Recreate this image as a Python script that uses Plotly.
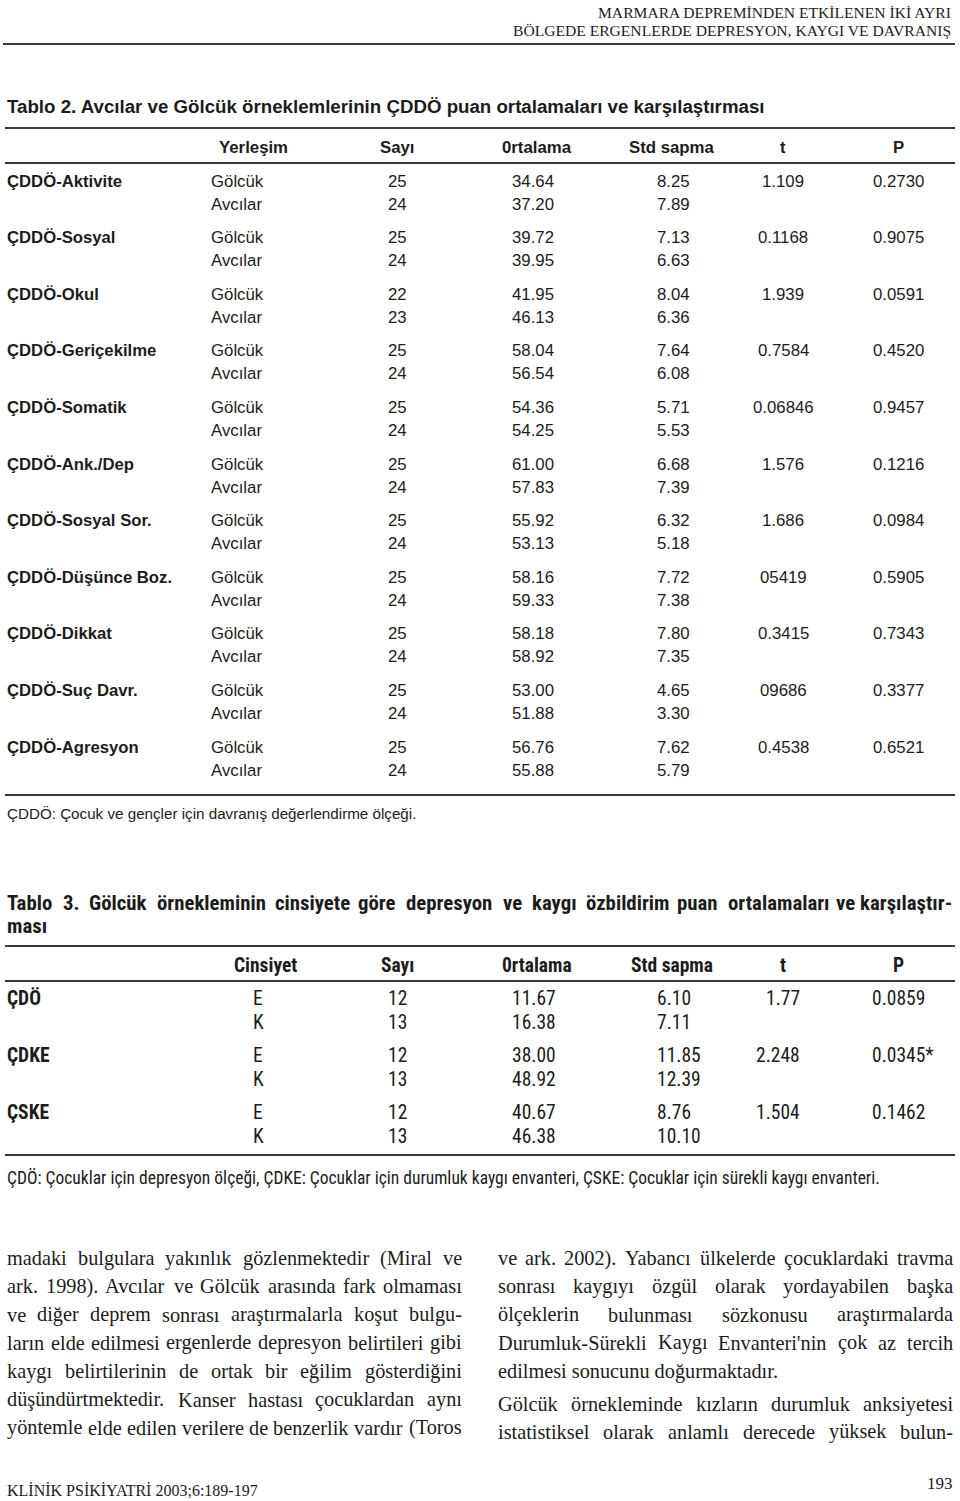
import plotly.graph_objects as go

# ---- data: Tablo 2 ----
t2_columns = ["Yerleşim", "Sayı", "0rtalama", "Std sapma", "t", "P"]
t2_scales = [
    "ÇDDÖ-Aktivite", "ÇDDÖ-Sosyal", "ÇDDÖ-Okul", "ÇDDÖ-Geriçekilme",
    "ÇDDÖ-Somatik", "ÇDDÖ-Ank./Dep", "ÇDDÖ-Sosyal Sor.", "ÇDDÖ-Düşünce Boz.",
    "ÇDDÖ-Dikkat", "ÇDDÖ-Suç Davr.", "ÇDDÖ-Agresyon",
]
t2_groups = ["Gölcük", "Avcılar"]
t2_n_golcuk = [25, 25, 22, 25, 25, 25, 25, 25, 25, 25, 25]
t2_n_avcilar = [24, 24, 23, 24, 24, 24, 24, 24, 24, 24, 24]
t2_mean_golcuk = ["34.64", "39.72", "41.95", "58.04", "54.36", "61.00", "55.92", "58.16", "58.18", "53.00", "56.76"]
t2_mean_avcilar = ["37.20", "39.95", "46.13", "56.54", "54.25", "57.83", "53.13", "59.33", "58.92", "51.88", "55.88"]
t2_sd_golcuk = ["8.25", "7.13", "8.04", "7.64", "5.71", "6.68", "6.32", "7.72", "7.80", "4.65", "7.62"]
t2_sd_avcilar = ["7.89", "6.63", "6.36", "6.08", "5.53", "7.39", "5.18", "7.38", "7.35", "3.30", "5.79"]
t2_t = ["1.109", "0.1168", "1.939", "0.7584", "0.06846", "1.576", "1.686", "05419", "0.3415", "09686", "0.4538"]
t2_p = ["0.2730", "0.9075", "0.0591", "0.4520", "0.9457", "0.1216", "0.0984", "0.5905", "0.7343", "0.3377", "0.6521"]

# ---- data: Tablo 3 ----
t3_columns = ["Cinsiyet", "Sayı", "0rtalama", "Std sapma", "t", "P"]
t3_scales = ["ÇDÖ", "ÇDKE", "ÇSKE"]
t3_groups = ["E", "K"]
t3_n_e = [12, 12, 12]
t3_n_k = [13, 13, 13]
t3_mean_e = ["11.67", "38.00", "40.67"]
t3_mean_k = ["16.38", "48.92", "46.38"]
t3_sd_e = ["6.10", "11.85", "8.76"]
t3_sd_k = ["7.11", "12.39", "10.10"]
t3_t = ["1.77", "2.248", "1.504"]
t3_p = ["0.0859", "0.0345*", "0.1462"]

# ---- page text ----
header_lines = [
    "MARMARA DEPREMİNDEN ETKİLENEN İKİ AYRI",
    "BÖLGEDE ERGENLERDE DEPRESYON, KAYGI VE DAVRANIŞ",
]
t2_title = "Tablo 2. Avcılar ve Gölcük örneklemlerinin ÇDDÖ puan ortalamaları ve karşılaştırması"
t2_note = "ÇDDÖ: Çocuk ve gençler için davranış değerlendirme ölçeği."
t3_title = [
    "Tablo 3. Gölcük örnekleminin cinsiyete göre depresyon ve kaygı özbildirim puan ortalamaları ve karşılaştır-",
    "ması",
]
t3_note = ("ÇDÖ: Çocuklar için depresyon ölçeği, ÇDKE: Çocuklar için durumluk kaygı envanteri, "
           "ÇSKE: Çocuklar için sürekli kaygı envanteri.")
left_col = [
    "madaki bulgulara yakınlık gözlenmektedir (Miral ve",
    "ark. 1998). Avcılar ve Gölcük arasında fark olmaması",
    "ve diğer deprem sonrası araştırmalarla koşut bulgu-",
    "ların elde edilmesi ergenlerde depresyon belirtileri gibi",
    "kaygı belirtilerinin de ortak bir eğilim gösterdiğini",
    "düşündürtmektedir. Kanser hastası çocuklardan aynı",
    "yöntemle elde edilen verilere de benzerlik vardır (Toros",
]
right_col = [
    "ve ark. 2002). Yabancı ülkelerde çocuklardaki travma",
    "sonrası kaygıyı özgül olarak yordayabilen başka",
    "ölçeklerin bulunması sözkonusu araştırmalarda",
    "Durumluk-Sürekli Kaygı Envanteri'nin çok az tercih",
    "edilmesi sonucunu doğurmaktadır.",
]
right_col2 = [
    "Gölcük örnekleminde kızların durumluk anksiyetesi",
    "istatistiksel olarak anlamlı derecede yüksek bulun-",
]
footer_left = "KLİNİK PSİKİYATRİ 2003;6:189-197"
footer_right = "193"

SANS = "Liberation Sans, Arial, Helvetica, sans-serif"
NARROW = "Liberation Sans Narrow, Arial Narrow, Roboto Condensed, Liberation Sans, sans-serif"
SERIF = "Liberation Serif, Times New Roman, serif"
INK = "#1c1c1c"
RULE = "#3c3c3c"

# approximate advance widths (em) used only to spread words for justified lines
SERIF_W = dict(zip("abcdefghijklmnopqrstuvwxyz",
                   [.444, .5, .444, .5, .444, .333, .5, .5, .278, .278, .5, .278, .778,
                    .5, .5, .5, .5, .333, .389, .278, .5, .5, .722, .5, .5, .444]))
SERIF_W.update(dict(zip("ABCDEFGHIJKLMNOPQRSTUVWXYZ",
                        [.722, .667, .667, .722, .611, .556, .722, .722, .333, .389, .722, .611, .889,
                         .722, .722, .556, .722, .667, .556, .611, .722, .722, .944, .722, .722, .611])))
SERIF_W.update({"ı": .278, "ş": .389, "ğ": .5, "ç": .444, "ö": .5, "ü": .5, "Ç": .667, "Ö": .722,
                "Ü": .722, "Ş": .556, "İ": .333, ".": .25, ",": .25, "(": .333, ")": .333,
                "-": .333, "'": .18, ":": .278, ";": .278})
NARROW_BW = {c: w * 0.83 for c, w in zip(
    "abcdefghijklmnopqrstuvwxyz",
    [.556, .611, .556, .611, .556, .333, .611, .611, .278, .278, .556, .278, .889,
     .611, .611, .611, .611, .389, .556, .333, .611, .556, .778, .556, .556, .5])}
NARROW_BW.update({c: w * 0.83 for c, w in {"ı": .278, "ş": .556, "ğ": .611, "ç": .556, "ö": .611,
                                          "ü": .611, "T": .611, "G": .778, ".": .278, "-": .333}.items()})

annotations = []
shapes = []


def txt(x, y, s, size, family=SANS, anchor="left", bold=False):
    annotations.append(dict(
        x=x, y=y, xref="x", yref="y", text=f"<b>{s}</b>" if bold else s,
        xanchor=anchor, yanchor="middle", showarrow=False, borderpad=0, borderwidth=0,
        font=dict(family=family, size=size, color=INK),
    ))


def justify(line, x0, x1, y, size, family, widths, bold=False, default=0.556):
    words = line.split(" ")
    ww = [sum(widths.get(c, default) for c in w) * size for w in words]
    gap = (x1 - x0 - sum(ww)) / max(len(words) - 1, 1)
    x = x0
    for k, w in enumerate(words):
        if k == len(words) - 1 and k > 0:
            txt(x1, y, w, size, family, "right", bold)
        else:
            txt(x, y, w, size, family, "left", bold)
        x += ww[k] + gap


def rule(y, x0=5, x1=955, width=2):
    shapes.append(dict(type="line", xref="x", yref="y", x0=x0, x1=x1, y0=y, y1=y,
                       line=dict(color=RULE, width=width)))


# running header
txt(951, 12, header_lines[0], 15.6, SERIF, "right")
txt(951, 30, header_lines[1], 15.6, SERIF, "right")
rule(44, 3, 955, 2)

# ---- Tablo 2 ----
txt(7, 106, t2_title, 18.7, SANS, bold=True)
rule(128)
rule(163)
head_x = [253, 397, 537, 672, 783, 898]
for hx, h in zip(head_x, t2_columns):
    txt(hx, 147, h, 16.8, SANS, "center", bold=True)

for i, name in enumerate(t2_scales):
    y1 = 181 + i * 56.6
    y2 = y1 + 23
    txt(7, y1, name, 16.7, SANS, bold=True)
    txt(211, y1, t2_groups[0], 16.8)
    txt(211, y2, t2_groups[1], 16.8)
    txt(397, y1, str(t2_n_golcuk[i]), 16.8, anchor="center")
    txt(397, y2, str(t2_n_avcilar[i]), 16.8, anchor="center")
    txt(512, y1, t2_mean_golcuk[i], 16.8)
    txt(512, y2, t2_mean_avcilar[i], 16.8)
    txt(657, y1, t2_sd_golcuk[i], 16.8)
    txt(657, y2, t2_sd_avcilar[i], 16.8)
    txt(783, y1, t2_t[i], 16.8, anchor="center")
    txt(898, y1, t2_p[i], 16.8, anchor="center")

rule(795)
txt(7, 813, t2_note, 15.2)

# ---- Tablo 3 ----
justify(t3_title[0], 7, 952, 903, 20.8, NARROW, NARROW_BW, bold=True)
txt(7, 926, t3_title[1], 20.8, NARROW, bold=True)
rule(946)
rule(981)
head3_x = [265, 397, 537, 672, 783, 898]
for hx, h in zip(head3_x, t3_columns):
    txt(hx, 965, h, 19.5, NARROW, "center", bold=True)

for i, name in enumerate(t3_scales):
    y1 = 998 + i * 57
    y2 = y1 + 24
    txt(7, y1, name, 19.5, NARROW, bold=True)
    txt(253, y1, t3_groups[0], 19.5, NARROW)
    txt(253, y2, t3_groups[1], 19.5, NARROW)
    txt(397, y1, str(t3_n_e[i]), 19.5, NARROW, "center")
    txt(397, y2, str(t3_n_k[i]), 19.5, NARROW, "center")
    txt(534, y1, t3_mean_e[i], 19.5, NARROW, "center")
    txt(534, y2, t3_mean_k[i], 19.5, NARROW, "center")
    txt(657, y1, t3_sd_e[i], 19.5, NARROW)
    txt(657, y2, t3_sd_k[i], 19.5, NARROW)
    txt(800, y1, t3_t[i], 19.5, NARROW, "right")
    txt(872, y1, t3_p[i], 19.5, NARROW)

rule(1155)
txt(7, 1178, t3_note, 17.5, NARROW)

# ---- body text (justified columns) ----
BODY = 20.3
for i, line in enumerate(left_col):
    justify(line, 7, 462, 1258 + i * 28.3, BODY, SERIF, SERIF_W, default=0.5)
for i, line in enumerate(right_col):
    if i == len(right_col) - 1:
        txt(498, 1258 + i * 28.3, line, BODY, SERIF)
    else:
        justify(line, 498, 953, 1258 + i * 28.3, BODY, SERIF, SERIF_W, default=0.5)
for i, line in enumerate(right_col2):
    justify(line, 498, 953, 1404 + i * 27.5, BODY, SERIF, SERIF_W, default=0.5)

# footer
txt(7, 1490, footer_left, 16, SERIF)
txt(953, 1483, footer_right, 17, SERIF, "right")

fig = go.Figure()
fig.add_trace(go.Scatter(x=[0, 960], y=[0, 1501], mode="markers",
                         marker=dict(opacity=0), hoverinfo="skip", showlegend=False))
fig.update_layout(
    width=960, height=1501,
    margin=dict(l=0, r=0, t=0, b=0),
    paper_bgcolor="white", plot_bgcolor="white",
    xaxis=dict(range=[0, 960], visible=False, fixedrange=True),
    yaxis=dict(range=[1501, 0], visible=False, fixedrange=True),
    annotations=annotations, shapes=shapes,
    showlegend=False,
)
fig.write_html("out.html", config={"displayModeBar": False},
               post_script="document.body.style.margin='0px';document.body.style.overflow='hidden';")
